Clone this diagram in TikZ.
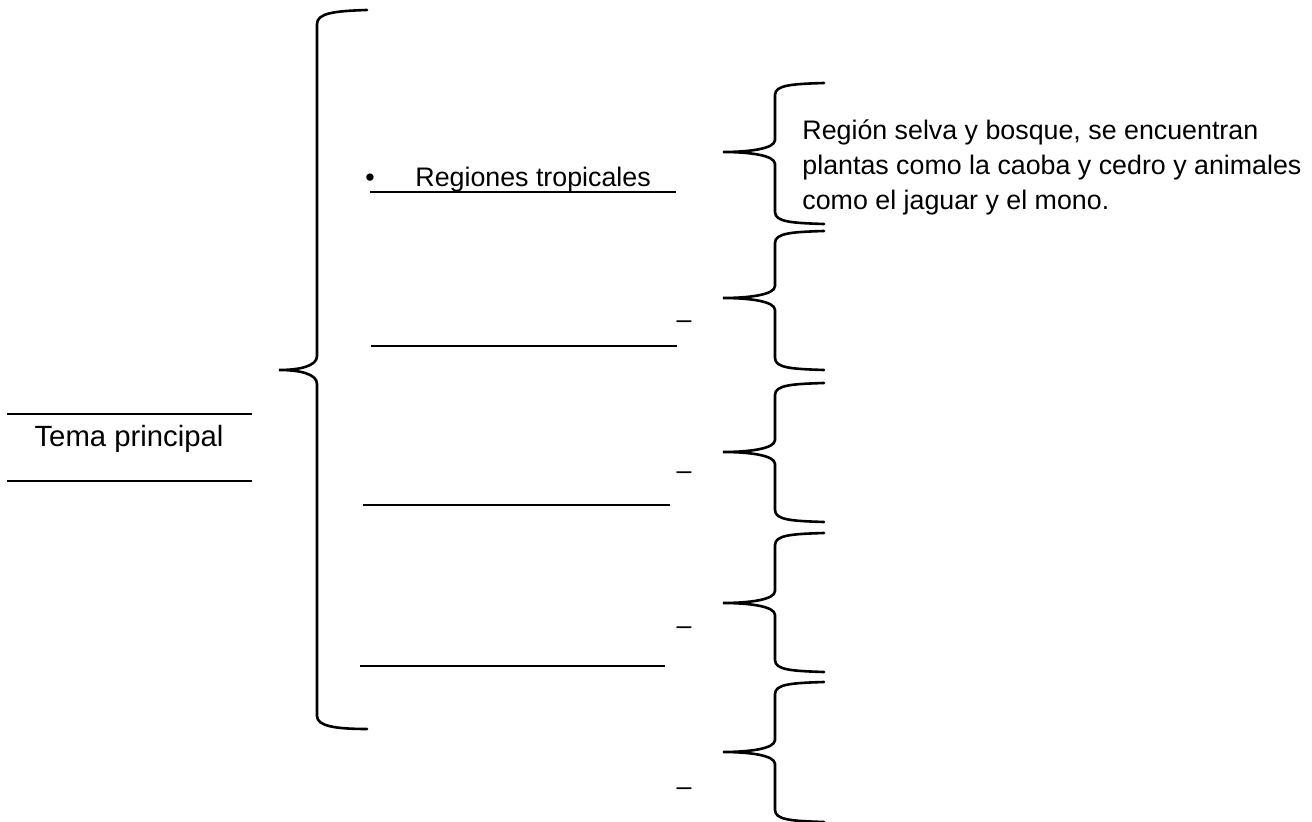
\documentclass[tikz,border=0pt]{standalone}
\usepackage{fontspec}
\setmainfont{Liberation Sans}

\tikzset{
  curly/.style={line width=1.3pt, line cap=round},
  blank/.style={line width=0.9pt},
  txt/.style={inner sep=0pt, font=\fontsize{13.4pt}{17.5pt}\selectfont},
}

\begin{document}
\begin{tikzpicture}[x=0.5pt, y=-0.5pt]
\useasboundingbox (0,0) rectangle (1312,822);

% main topic
\node[txt, font=\fontsize{14.65pt}{17pt}\selectfont, anchor=base] (tema) at (129,447) {Tema principal};
\draw[blank] (7,414) -- (252,414);
\draw[blank] (7,481) -- (252,481);

% big brace
\draw[curly] (367,10) .. controls (335,11) and (317,13) .. (317,24) -- (317,356)
   .. controls (317,366) and (300,370) .. (279,370)
   .. controls (300,370) and (317,374) .. (317,384) -- (317,716)
   .. controls (317,726) and (335,729) .. (367,729);

% sub topics
\node[txt, anchor=base west] (bullet) at (365,187) {•};
\node[txt, anchor=base west] (tropical) at (415,187) {Regiones tropicales};
\foreach \y/\a/\e in {192/370/676, 346/371/677, 505/363/670, 666/360/665}
   {
	\draw[blank] (\a,\y) -- (\e,\y);
   };
\foreach \y [count=\i] in {329,480,635,796}
   {
	\node[txt, anchor=base] (dash\i) at (684,\y) {–};
   };

% small braces
\foreach \t/\m/\b in {83/152/224, 231/298/370, 383/452/522, 533/603/672, 682/752/822}
   {
	\draw[curly] (824,\t) .. controls (792,\t+1) and (775,\t+2) .. (775,\t+12) -- (775,\m-12)
	   .. controls (775,\m-3) and (748,\m) .. (723,\m)
	   .. controls (748,\m) and (775,\m+3) .. (775,\m+12) -- (775,\b-12)
	   .. controls (775,\b-2) and (792,\b-1) .. (824,\b);
   };

\node[txt, anchor=base west, align=left] (detail) at (802,210)
   {Región selva y bosque, se encuentran\\plantas como la caoba y cedro y animales\\como el jaguar y el mono.};
\end{tikzpicture}
\end{document}
